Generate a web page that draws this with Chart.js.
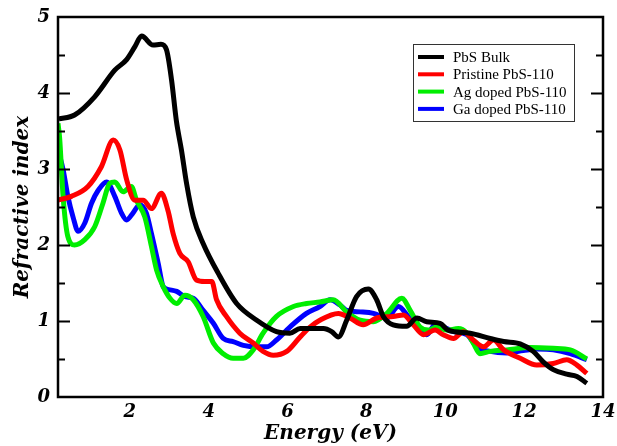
<!DOCTYPE html>
<html>
<head>
<meta charset="utf-8">
<script src="https://cdn.jsdelivr.net/npm/chart.js@4"></script>
<style>
  body { margin: 0; background: #fff; }
  #wrap { width: 617px; height: 446px; }
</style>
</head>
<body>
<div id="wrap"><canvas id="myChart" width="617" height="446"></canvas></div>
<script>
// energy (eV) / refractive index
var bulkE = [0.2, 0.6, 1.11, 1.62, 1.92, 2.13, 2.3, 2.59, 2.79, 2.93, 3.06, 3.18, 3.31, 3.44, 3.61, 3.86, 4.24, 4.71, 5.22, 5.72, 6.06, 6.32, 6.91, 7.12, 7.29, 7.5, 7.75, 8.05, 8.26, 8.43, 8.68, 9.02, 9.28, 9.53, 9.87, 10.07, 10.63, 11.14, 11.48, 11.9, 12.23, 12.49, 12.74, 13.08, 13.34, 13.59];
var bulkN = [3.66, 3.71, 3.95, 4.30, 4.44, 4.61, 4.75, 4.63, 4.64, 4.57, 4.17, 3.64, 3.25, 2.81, 2.37, 2.02, 1.63, 1.23, 1.01, 0.86, 0.84, 0.90, 0.90, 0.86, 0.79, 1.01, 1.32, 1.42, 1.28, 1.06, 0.95, 0.93, 1.04, 0.99, 0.97, 0.88, 0.84, 0.77, 0.73, 0.70, 0.60, 0.46, 0.36, 0.30, 0.27, 0.18];

var pristineE = [0.18, 0.52, 0.94, 1.28, 1.58, 1.75, 1.92, 2.13, 2.34, 2.55, 2.8, 2.97, 3.1, 3.27, 3.48, 3.69, 3.9, 4.08, 4.2, 4.45, 4.79, 5.13, 5.38, 5.64, 5.98, 6.32, 6.57, 6.82, 7.29, 7.58, 7.92, 8.26, 8.68, 8.94, 9.19, 9.45, 9.74, 9.95, 10.21, 10.46, 10.71, 10.97, 11.22, 11.48, 11.9, 12.32, 12.74, 13.08, 13.34, 13.59];
var pristineN = [2.59, 2.64, 2.77, 3.03, 3.38, 3.25, 2.86, 2.59, 2.59, 2.48, 2.68, 2.45, 2.15, 1.89, 1.78, 1.54, 1.52, 1.52, 1.28, 1.06, 0.84, 0.71, 0.60, 0.55, 0.60, 0.79, 0.92, 1.01, 1.10, 1.04, 0.95, 1.04, 1.06, 1.08, 0.95, 0.82, 0.88, 0.82, 0.77, 0.86, 0.75, 0.66, 0.75, 0.62, 0.51, 0.42, 0.44, 0.49, 0.42, 0.31];

var agE = [0.18, 0.22, 0.31, 0.43, 0.6, 0.86, 1.11, 1.32, 1.49, 1.62, 1.83, 2.04, 2.17, 2.38, 2.55, 2.68, 2.85, 3.02, 3.19, 3.4, 3.61, 3.86, 4.12, 4.37, 4.62, 4.88, 5.13, 5.38, 5.72, 6.15, 6.48, 6.82, 7.16, 7.5, 7.84, 8.18, 8.52, 8.9, 9.11, 9.36, 9.57, 9.78, 10.04, 10.33, 10.55, 10.71, 10.88, 11.14, 11.56, 12.15, 12.74, 13.17, 13.59];
var agN = [3.6, 3.42, 2.63, 2.11, 2.0, 2.07, 2.24, 2.55, 2.81, 2.83, 2.70, 2.77, 2.59, 2.37, 1.98, 1.67, 1.45, 1.30, 1.23, 1.34, 1.28, 1.06, 0.71, 0.57, 0.51, 0.51, 0.62, 0.84, 1.06, 1.19, 1.23, 1.25, 1.28, 1.12, 1.01, 0.99, 1.10, 1.30, 1.14, 0.92, 0.88, 0.92, 0.88, 0.90, 0.84, 0.71, 0.57, 0.60, 0.62, 0.65, 0.64, 0.62, 0.50];

var gaE = [0.18, 0.31, 0.43, 0.56, 0.69, 0.86, 1.03, 1.2, 1.41, 1.62, 1.79, 1.92, 2.08, 2.25, 2.42, 2.55, 2.72, 2.85, 3.02, 3.19, 3.4, 3.61, 3.86, 4.12, 4.37, 4.62, 4.88, 5.22, 5.47, 5.72, 6.06, 6.48, 6.82, 7.08, 7.33, 7.5, 7.84, 8.18, 8.52, 8.81, 9.06, 9.28, 9.53, 9.74, 10.04, 10.21, 10.55, 10.8, 11.14, 11.56, 11.98, 12.32, 12.74, 13.17, 13.59];
var gaN = [3.25, 2.99, 2.64, 2.37, 2.18, 2.29, 2.55, 2.72, 2.83, 2.64, 2.42, 2.33, 2.42, 2.53, 2.42, 2.15, 1.76, 1.45, 1.41, 1.39, 1.32, 1.30, 1.14, 0.97, 0.77, 0.73, 0.68, 0.66, 0.66, 0.75, 0.92, 1.10, 1.19, 1.28, 1.21, 1.14, 1.12, 1.10, 1.04, 1.19, 1.06, 0.92, 0.82, 0.95, 0.90, 0.86, 0.82, 0.66, 0.60, 0.58, 0.61, 0.63, 0.62, 0.57, 0.49];

var seriesNames = ["PbS Bulk", "Pristine PbS-110", "Ag doped PbS-110", "Ga doped PbS-110"];
var seriesColors = ["#000000", "#ff0000", "#00ee00", "#0000ff"];
var xTickValues = [2, 4, 6, 8, 10, 12, 14];

function pts(xs, ys) {
  return xs.map(function(x, i){ return {x: x, y: ys[i]}; });
}

var tickFont = {family: "'DejaVu Serif', serif", size: 18, weight: 'bold', style: 'italic'};
var titleFont = {family: "'DejaVu Serif', serif", size: 20, weight: 'bold', style: 'italic'};

// ticks inside the frame + border
var framePlugin = {
  id: 'frame',
  afterDraw: function(chart) {
    var c = chart.ctx, a = chart.chartArea, ys = chart.scales.y;
    c.save();
    c.strokeStyle = '#000';
    c.lineWidth = 2;
    ys.ticks.forEach(function(t){
      var p = Math.round(ys.getPixelForValue(t.value)) + 0.5;
      var len = (t.value % 1 === 0) ? 12 : 7;
      if (t.value === 0 || t.value === 5) return;
      c.beginPath();
      c.moveTo(a.left, p); c.lineTo(a.left + len, p);
      c.moveTo(a.right, p); c.lineTo(a.right - len, p);
      c.stroke();
    });
    c.lineWidth = 2.5;
    c.strokeRect(a.left, a.top, a.right - a.left, a.bottom - a.top);
    c.restore();
  }
};

// legend box in upper right
var boxLegend = {
  id: 'boxLegend',
  afterDraw: function(chart) {
    var c = chart.ctx;
    var bx = 413, by = 44, bw = 161, bh = 77;
    c.save();
    c.fillStyle = '#fff';
    c.fillRect(bx, by, bw, bh);
    c.strokeStyle = '#333';
    c.lineWidth = 1;
    c.strokeRect(bx + 0.5, by + 0.5, bw, bh);
    c.font = "15px 'Liberation Serif', serif";
    c.textBaseline = 'middle';
    chart.data.datasets.forEach(function(ds, i){
      var yy = by + 13 + i * 17.3;
      c.strokeStyle = ds.borderColor;
      c.lineWidth = 4;
      c.beginPath();
      c.moveTo(bx + 5, yy); c.lineTo(bx + 31, yy);
      c.stroke();
      c.fillStyle = '#000';
      c.fillText(ds.label, bx + 40, yy + 1);
    });
    c.restore();
  }
};

var ctx = document.getElementById("myChart").getContext('2d');
var datasets = [pts(bulkE, bulkN), pts(pristineE, pristineN), pts(agE, agN), pts(gaE, gaN)].map(function(d, i){
  return {
    label: seriesNames[i],
    data: d,
    borderColor: seriesColors[i],
    backgroundColor: seriesColors[i],
    borderWidth: 5,
    pointRadius: 0,
    tension: 0.4,
    cubicInterpolationMode: 'monotone',
    fill: false
  };
});

var myChart = new Chart(ctx, {
  type: 'line',
  data: { datasets: datasets },
  options: {
    responsive: false,
    animation: false,
    layout: { padding: { top: 17, right: 14, left: 0, bottom: 0 } },
    plugins: {
      legend: { display: false },
      tooltip: { enabled: false }
    },
    scales: {
      x: {
        type: 'linear',
        min: 0.18,
        max: 14,
        afterBuildTicks: function(s){ s.ticks = xTickValues.map(function(v){ return {value: v}; }); },
        afterFit: function(s){ s.height = 49; s.paddingRight = 0; s.paddingLeft = 0; },
        grid: { display: false, drawTicks: false },
        border: { display: false },
        ticks: { color: '#000', font: tickFont, padding: 5, maxRotation: 0, autoSkip: false },
        title: { display: true, text: 'Energy (eV)', color: '#000', font: titleFont, padding: {top: 0, bottom: 0} }
      },
      y: {
        min: 0,
        max: 5,
        afterFit: function(s){ s.width = 58; s.paddingTop = 0; s.paddingBottom = 0; },
        grid: { display: false, drawTicks: false },
        border: { display: false },
        ticks: {
          stepSize: 0.5,
          color: '#000',
          font: tickFont,
          padding: 8,
          callback: function(v){ return (v % 1 === 0) ? v : ''; }
        },
        title: { display: true, text: 'Refractive index', color: '#000', font: titleFont, padding: {top: 11, bottom: 0} }
      }
    }
  },
  plugins: [framePlugin, boxLegend]
});
</script>
</body>
</html>
